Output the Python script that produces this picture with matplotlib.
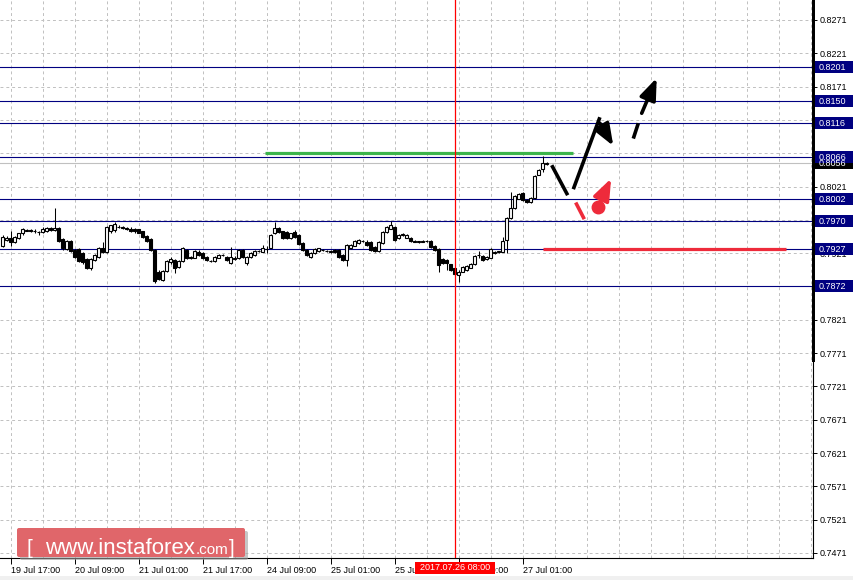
import numpy as np
import matplotlib
matplotlib.use("Agg")
import matplotlib.pyplot as plt
from matplotlib.patches import Rectangle, FancyBboxPatch, FancyArrowPatch
from matplotlib.ticker import FixedLocator, FuncFormatter

plt.rcParams["font.family"] = ["Liberation Sans", "DejaVu Sans"]

# =================================================
# DATA (H1 candles, prices in pips: 7932 -> 0.7932)
# =================================================

open_pips = [
    7932, 7941, 7944, 7937, 7943, 7950.5, 7955, 7956, 7955, 7953,
    7953, 7954.5, 7959, 7956, 7959.5, 7942, 7927, 7939, 7925.5, 7926.5,
    7920.5, 7912, 7898, 7910.5, 7915.5, 7928, 7923, 7954, 7955.5, 7960.5,
    7960, 7958.5, 7958, 7958, 7957, 7954, 7947, 7941.5, 7925.5, 7893,
    7880.5, 7894.5, 7907, 7910.5, 7900.5, 7909, 7925.5, 7914.5, 7914, 7923,
    7920.5, 7915.5, 7909.5, 7909, 7914, 7918, 7915.5, 7905.5, 7914, 7913,
    7925.5, 7905.5, 7915.5, 7918, 7924, 7923, 7927, 7929, 7950.5, 7959,
    7954, 7953, 7943, 7953, 7948, 7935.5, 7925.5, 7915.5, 7920.5, 7924,
    7925.5, 7924, 7923, 7925.5, 7925.5, 7918, 7910.5, 7928, 7932, 7935.5,
    7939, 7938, 7938, 7930.5, 7924.5, 7935.5, 7953, 7958, 7960.5, 7943,
    7948.5, 7944, 7944, 7938.5, 7938, 7938.5, 7939, 7939, 7932, 7927,
    7912, 7910.5, 7904, 7898, 7888, 7893, 7895.5, 7899, 7904, 7917.5,
    7917, 7912, 7914, 7923, 7923, 7923, 7940.5, 7974, 7989, 8003,
    8011.5, 8000.5, 7998, 8004, 8039, 8048, 8055,
]
high_pips = [
    7948, 7946, 7955, 7947, 7952, 7959, 7958, 7958, 7957, 7955,
    7960, 7961, 7961, 7989.5, 7960, 7944, 7941, 7941, 7927, 7928,
    7922, 7914, 7913, 7920, 7930, 7938, 7962, 7964, 7968, 7963,
    7962, 7960, 7960, 7959, 7958, 7955, 7948, 7943, 7927, 7895,
    7896, 7910, 7915.5, 7912, 7910, 7930, 7927, 7916, 7926, 7925,
    7922, 7917, 7911, 7917, 7920, 7920, 7917, 7930.5, 7916, 7927,
    7927, 7917, 7922, 7926, 7926, 7933, 7931, 7950, 7968, 7960,
    7955, 7954, 7952, 7956, 7949, 7937, 7927, 7922, 7928, 7929,
    7927, 7926, 7925, 7927, 7927, 7919, 7934, 7935, 7940, 7942,
    7941, 7940, 7939, 7932, 7939, 7954, 7962, 7969.5, 7962, 7949,
    7951, 7949, 7945, 7940, 7939.5, 7940, 7940.5, 7940, 7933, 7928,
    7913, 7912, 7905, 7899, 7895.5, 7902, 7903, 7906, 7918, 7924,
    7918, 7917, 7928, 7924, 7924.5, 7944.5, 7975, 8013, 8008, 8012,
    8012.5, 8002, 8005, 8038, 8048, 8067, 8058,
]
low_pips = [
    7930, 7939, 7932, 7936, 7942, 7948, 7954, 7953, 7952, 7948,
    7951, 7953, 7954, 7954, 7937, 7925.5, 7925, 7922, 7914, 7907,
    7905, 7897, 7896, 7909, 7914, 7920.5, 7921, 7952, 7953, 7959,
    7958, 7956, 7953, 7952, 7951, 7944, 7937, 7924, 7875.5, 7880,
    7879, 7893, 7905, 7890.5, 7899, 7908, 7912, 7912, 7913, 7916,
    7912, 7909, 7907, 7908, 7913, 7916, 7909, 7904, 7911, 7912,
    7914, 7903, 7914, 7917, 7922, 7922, 7920.5, 7928, 7949, 7952,
    7942, 7942, 7942, 7944, 7933, 7924, 7917, 7913, 7919, 7923,
    7924, 7922, 7921, 7921, 7914, 7909, 7902, 7927, 7931, 7934,
    7937, 7932, 7924, 7922, 7923, 7934, 7952, 7957, 7939, 7942,
    7947, 7943, 7938, 7937, 7936.5, 7937, 7937, 7929, 7924, 7893,
    7904, 7895.5, 7894, 7887, 7878, 7892, 7894, 7898, 7903, 7913,
    7909, 7911, 7913, 7920, 7921.5, 7922, 7920.5, 7973, 7988, 8002,
    7999, 7996, 7997, 8003, 8038, 8043, 8054,
]
close_pips = [
    7945.5, 7944, 7938, 7945.5, 7950.5, 7958, 7956, 7955, 7954.5, 7953,
    7958, 7959.5, 7955.5, 7959, 7939, 7928, 7939, 7924, 7915.5, 7909,
    7907, 7899, 7912, 7918, 7928, 7922, 7960.5, 7963, 7965.5, 7961,
    7959.5, 7958, 7954, 7954, 7952, 7945.5, 7939, 7925.5, 7879, 7882,
    7894, 7909, 7912, 7898, 7909, 7928, 7914, 7914, 7924, 7918,
    7914, 7910.5, 7909, 7915.5, 7918, 7918.5, 7910.5, 7915.5, 7912, 7925.5,
    7915.5, 7915.5, 7920.5, 7924, 7924.5, 7928, 7927.5, 7948, 7959, 7953,
    7943, 7943, 7950.5, 7945.5, 7934, 7925.5, 7918, 7920.5, 7926.5, 7928,
    7926, 7924.5, 7923.5, 7922, 7915.5, 7910.5, 7933, 7933, 7939, 7940.5,
    7939.5, 7933, 7925.5, 7924, 7938, 7953, 7960.5, 7963, 7940.5, 7948,
    7949, 7948, 7939, 7938, 7938.5, 7938, 7939.5, 7930.5, 7925.5, 7903,
    7905.5, 7905.5, 7895.5, 7889, 7892, 7900.5, 7902, 7904, 7917, 7918,
    7910.5, 7915.5, 7926.5, 7921, 7923.5, 7939.5, 7974, 7989, 8006.5, 8010.5,
    8000.5, 7998, 8004, 8037, 8046.5, 8056.5, 8056,
]

# time axis (candle index -> label)
tick_index = [2, 18, 34, 50, 66, 82, 98, 114, 130]
tick_labels = ["19 Jul 17:00", "20 Jul 09:00", "21 Jul 01:00", "21 Jul 17:00",
               "24 Jul 09:00", "25 Jul 01:00", "25 Jul 17:00", "26 Jul 09:00",
               "27 Jul 01:00"]

price_ticks = [0.8271, 0.8221, 0.8171, 0.8121, 0.8071, 0.8021, 0.7971, 0.7921,
               0.7871, 0.7821, 0.7771, 0.7721, 0.7671, 0.7621, 0.7571, 0.7521,
               0.7471]
# tick labels fully covered by the level boxes in the terminal
hidden_ticks = [0.8121, 0.8071, 0.7971, 0.7871]

levels = [0.8201, 0.8150, 0.8116, 0.8066, 0.8002, 0.7970, 0.7927, 0.7872]
current_price = 0.8056

marker_index = 113
marker_label = "2017.07.26 08:00"

# drawn objects (candle index, price)
green_x = [65.6, 142.6]
green_y = 0.8071
red_x = [135.1, 195.8]
red_y = 0.7927

black_leg1 = ([137.25, 141.25], [0.8053, 0.8008])
black_leg2 = ([142.65, 149.3], [0.8017, 0.8125])
black_arrow_down = ((149.3, 0.8116), (152.65, 0.8082))
black_dash = ([157.65, 158.9], [0.8093, 0.8116])
black_arrow_up = ((159.75, 0.8131), (163.5, 0.8184))
red_dash = ([143.25, 145.4], [0.7997, 0.7972])
red_dot = (148.75, 0.7991)
red_arrow_tip = (152.1, 0.8033)

o = np.array(open_pips) / 10000
h = np.array(high_pips) / 10000
l = np.array(low_pips) / 10000
c = np.array(close_pips) / 10000
idx = np.arange(len(o))

NAVY = "#000080"
W, H = 854, 580

# =================================================
# FIGURE / AXES
# =================================================

fig = plt.figure(figsize=(W / 100, H / 100), dpi=100)
ax = fig.add_axes([0, 22 / H, 813 / W, 558 / H])
ax.set_xlim(-0.675, 202.575)
ax.set_ylim(0.74634, 0.8301)

for s in ["top", "left"]:
    ax.spines[s].set_visible(False)
ax.spines["bottom"].set_linewidth(0.8)
ax.spines["right"].set_linewidth(0.8)

# grid
grid_x = np.arange(2, 203, 8)
ax.xaxis.set_major_locator(FixedLocator(tick_index))
ax.xaxis.set_minor_locator(FixedLocator(grid_x))
ax.set_xticklabels(tick_labels)
ax.tick_params(axis="x", which="major", length=4, width=0.7, pad=1.5,
               labelsize=6.5)
ax.tick_params(axis="x", which="minor", length=0)
for lab in ax.get_xticklabels():
    lab.set_horizontalalignment("left")


def fmt_price(v, pos):
    if any(abs(v - t) < 1e-6 for t in hidden_ticks):
        return ""
    return f"{v:.4f}"


ax.yaxis.tick_right()
ax.set_yticks(price_ticks)
ax.yaxis.set_major_formatter(FuncFormatter(fmt_price))
ax.tick_params(axis="y", length=3, width=0.7, pad=2, labelsize=6.5)

ax.grid(True, which="both", axis="x", color="#c0c0c0", lw=0.7,
        linestyle=(0, (3, 3)))
ax.grid(True, which="major", axis="y", color="#c0c0c0", lw=0.7,
        linestyle=(0, (3, 3)))
ax.set_axisbelow(True)

# -------------------------------------------------
# levels
# -------------------------------------------------
ax.axhline(current_price, color="#c0c0c0", lw=0.8, zorder=1.5)
for lv in levels:
    ax.axhline(lv, color=NAVY, lw=0.8, zorder=1.6)

ax.plot(green_x, [green_y, green_y], color="#3cb44b", lw=2.3,
        solid_capstyle="butt", zorder=4)
ax.plot(red_x, [red_y, red_y], color="#ee2b3b", lw=2.3,
        solid_capstyle="butt", zorder=4)

# -------------------------------------------------
# candles
# -------------------------------------------------
ax.vlines(idx, l, h, color="black", lw=0.75, zorder=2)
body_lo = np.minimum(o, c)
body_hi = np.maximum(o, c)
colors = ["white" if cc >= oo else "black" for oo, cc in zip(o, c)]
ax.bar(idx, body_hi - body_lo, bottom=body_lo, width=0.62,
       color=colors, edgecolor="black", linewidth=0.8, zorder=3)

ax.axvline(marker_index, color="#ff0000", lw=0.9, zorder=5)

# -------------------------------------------------
# drawn forecast
# -------------------------------------------------
ax.plot(*black_leg1, color="black", lw=2.6, solid_capstyle="butt", zorder=6)
ax.plot(*black_leg2, color="black", lw=2.6, solid_capstyle="butt", zorder=6)
ax.plot(*black_dash, color="black", lw=2.6, solid_capstyle="butt", zorder=6)
ax.plot(*red_dash, color="#ee2b3b", lw=2.6, solid_capstyle="butt", zorder=6)

for start, end, col in [(black_arrow_down[0], black_arrow_down[1], "black"),
                        (black_arrow_up[0], black_arrow_up[1], "black"),
                        (red_dot, red_arrow_tip, "#ee2b3b")]:
    arr = FancyArrowPatch(start, end,
                          arrowstyle="-|>,head_length=13,head_width=5",
                          mutation_scale=1, color=col, lw=2.6,
                          shrinkA=0, shrinkB=0, zorder=6)
    ax.add_patch(arr)

ax.plot([red_dot[0]], [red_dot[1]], "o", color="#ee2b3b", ms=9, zorder=7)

# =================================================
# OVERLAY (pixel coordinates, top origin)
# =================================================

ov = fig.add_axes([0, 0, 1, 1], zorder=10)
ov.set_xlim(0, W)
ov.set_ylim(H, 0)
ov.axis("off")
ov.patch.set_alpha(0)

# thick part of right border
ov.add_patch(Rectangle((812, 0), 3.5, 362, fc="black", ec="none"))
ov.add_patch(Rectangle((0, 576), W, 4, fc="#f0f0f0", ec="none"))

fig.canvas.draw()


def price_to_px(p):
    return H - ax.transData.transform((0, p))[1]


def level_box(p, fc):
    y = price_to_px(p)
    ov.add_patch(Rectangle((815, y - 6), 38, 12, fc=fc, ec="none"))
    ov.text(818.5, y + 0.5, f"{p:.4f}", color="white", fontsize=6.5,
            va="center", ha="left")


level_box(current_price, "black")
for lv in levels:
    level_box(lv, NAVY)

# date marker label
mx = ax.transData.transform((marker_index, 0))[0]
ov.add_patch(Rectangle((mx - 40, 562), 80, 11.5, fc="#ff0000", ec="none"))
ov.text(mx, 567.8, marker_label, color="white", fontsize=6.5,
        ha="center", va="center")

# watermark
ov.add_patch(FancyBboxPatch((20, 531), 228, 29, boxstyle="round,pad=0,rounding_size=2",
                            fc="#a0a0a0", ec="none", alpha=0.6))
ov.add_patch(FancyBboxPatch((17, 528), 228, 29, boxstyle="round,pad=0,rounding_size=2",
                            fc="#e0666a", ec="none"))
ov.text(27, 554, "[", color="white", fontsize=15, ha="left", va="baseline")
ov.text(45, 554, "www.instaforex", color="white", fontsize=16, ha="left",
        va="baseline")
ov.text(196, 554, ".com", color="white", fontsize=11, ha="left",
        va="baseline")
ov.text(229, 554, "]", color="white", fontsize=15, ha="left", va="baseline")

fig.savefig("out.png", dpi=100)
plt.close(fig)
